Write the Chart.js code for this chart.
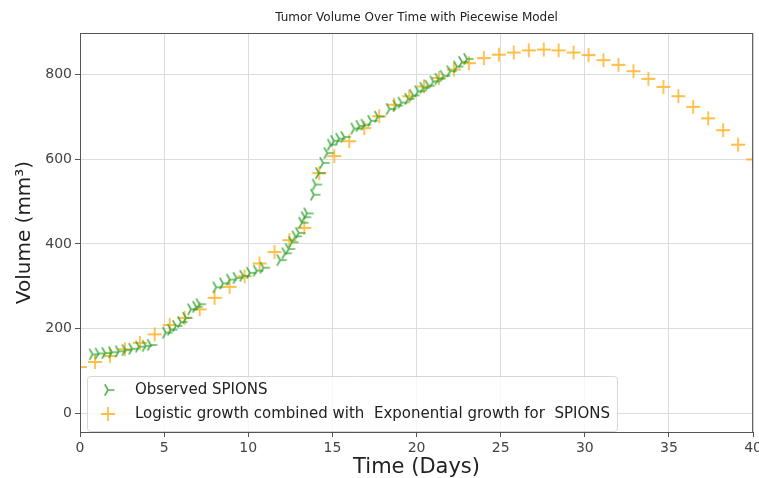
<!DOCTYPE html>
<html>
<head>
<meta charset="utf-8">
<script src="https://cdn.jsdelivr.net/npm/chart.js@4.4.1/dist/chart.umd.min.js"></script>
<style>
  html, body { margin: 0; padding: 0; background: #fff; overflow: hidden; }
  #wrap { width: 759px; height: 478px; overflow: hidden; }
</style>
</head>
<body>
<!-- canvas is a few px wider than the window so the "40" label gets clipped like the original -->
<div id="wrap"><canvas id="tumorChart" width="765" height="478"></canvas></div>
<script>
// observed SPIONS measurements
const obsDays = [0.75, 1.1, 1.5, 1.9, 2.3, 2.7, 3.1, 3.5, 3.9, 4.2,
    5.1, 5.4, 5.7, 6.0, 6.3, 6.6, 6.9, 7.1,
    8.1, 8.5, 8.9, 9.3, 9.7, 10.1, 10.5, 10.9,
    11.9, 12.2, 12.4, 12.6, 12.8, 13.0, 13.2, 13.35, 13.5, 13.9, 14.0, 14.2, 14.45, 14.7, 14.9,
    15.1, 15.4, 15.7, 16.3, 16.6, 16.9, 17.3, 17.7, 18.4, 18.8, 19.1, 19.5, 19.8,
    20.1, 20.4, 20.7, 21.0, 21.3, 21.6, 22.0, 22.4, 22.7, 23.0];
const obsVolume = [140, 142, 143, 145, 147, 150, 153, 158, 160, 162,
    191, 198, 207, 216, 226, 246, 252, 258,
    298, 307, 316, 320, 325, 332, 337, 344,
    362, 378, 388, 404, 418, 426, 450, 463, 472, 516, 540, 567, 591, 614, 634,
    643, 648, 652, 672, 678, 681, 690, 700, 718, 726, 733, 742, 750,
    760, 768, 773, 783, 789, 796, 807, 818, 829, 836];

// piecewise model (logistic + exponential)
const modelDays = [0, 0.89, 1.78, 2.67, 3.56, 4.44, 5.33, 6.22, 7.11, 8.0,
    8.89, 9.78, 10.67, 11.56, 12.44, 13.33, 14.22, 15.11, 16.0, 16.89,
    17.78, 18.67, 19.56, 20.44, 21.33, 22.22, 23.11, 24.0, 24.89, 25.78,
    26.67, 27.56, 28.44, 29.33, 30.22, 31.11, 32.0, 32.89, 33.78, 34.67,
    35.56, 36.44, 37.33, 38.22, 39.11, 40.0];
const modelVolume = [110, 122, 136, 152, 167, 187, 209, 226, 246, 273,
    299, 324, 354, 381, 409, 438, 567, 607, 642, 673,
    701, 728, 748, 771, 791, 811, 826, 838, 846, 851,
    856, 858, 856, 851, 845, 833, 822, 807, 789, 770,
    748, 723, 696, 668, 634, 599];

const yTicks = [0, 200, 400, 600, 800];
const xTicks = [0, 5, 10, 15, 20, 25, 30, 35, 40];

const seriesLabels = ["Observed SPIONS", "Logistic growth combined with  Exponential growth for  SPIONS"];

const FONT = "'DejaVu Sans', sans-serif";

function triRight(color) {
    const c = document.createElement("canvas");
    c.width = 16; c.height = 16;
    const g = c.getContext("2d");
    const r = 6.5;
    g.strokeStyle = color;
    g.lineWidth = 1.7;
    g.beginPath();
    [0, 120, 240].forEach((deg) => {
        const a = deg * Math.PI / 180;
        g.moveTo(8, 8);
        g.lineTo(8 + r * Math.cos(a), 8 - r * Math.sin(a));
    });
    g.stroke();
    return c;
}

function plusMark(color) {
    const c = document.createElement("canvas");
    c.width = 18; c.height = 18;
    const g = c.getContext("2d");
    g.strokeStyle = color;
    g.lineWidth = 1.8;
    g.beginPath();
    g.moveTo(2, 9); g.lineTo(16, 9);
    g.moveTo(9, 2); g.lineTo(9, 16);
    g.stroke();
    return c;
}

const greenMark = triRight("rgba(44,160,44,0.8)");
const orangeMark = plusMark("rgba(255,165,0,0.72)");

const insideLegend = {
    id: "insideLegend",
    afterDraw(chart) {
        const ctx = chart.ctx;
        const x = 87, y = 376, w = 530, h = 55;
        ctx.save();
        ctx.fillStyle = "rgba(255,255,255,0.8)";
        ctx.strokeStyle = "rgba(204,204,204,0.8)";
        ctx.lineWidth = 1;
        ctx.beginPath();
        ctx.roundRect(x + 0.5, y + 0.5, w, h, 3);
        ctx.fill();
        ctx.stroke();
        ctx.font = "15px " + FONT;
        ctx.fillStyle = "#222";
        ctx.textBaseline = "middle";
        const marks = [greenMark, orangeMark];
        const rows = [390, 414];
        seriesLabels.forEach((label, i) => {
            const m = marks[i];
            ctx.drawImage(m, 108 - m.width / 2, rows[i] - m.height / 2);
            ctx.fillText(label, 135, rows[i]);
        });
        ctx.restore();
    },
};

const frame = {
    id: "frame",
    afterDatasetsDraw(chart) {
        const a = chart.chartArea;
        const ctx = chart.ctx;
        ctx.save();
        ctx.strokeStyle = "#555";
        ctx.lineWidth = 1;
        ctx.strokeRect(a.left + 0.5, a.top + 0.5, a.right - a.left - 1, a.bottom - a.top);
        ctx.restore();
    },
};

const ctx = document.getElementById("tumorChart");
new Chart(ctx, {
    type: "scatter",
    data: {
        datasets: [
            {
                label: seriesLabels[0],
                data: obsDays.map((d, i) => ({ x: d, y: obsVolume[i] })),
                pointStyle: greenMark,
                pointRadius: 7,
            },
            {
                label: seriesLabels[1],
                data: modelDays.map((d, i) => ({ x: d, y: modelVolume[i] })),
                pointStyle: orangeMark,
                pointRadius: 8,
            },
        ],
    },
    options: {
        responsive: false,
        animation: false,
        plugins: {
            legend: { display: false },
            tooltip: { enabled: false },
        },
        scales: {
            // top axis only carries the title, centred over the plot like matplotlib does
            top: {
                type: "linear",
                position: "top",
                min: 0,
                max: 40,
                afterFit: (scale) => { scale.height = 33; },
                grid: { display: false },
                border: { display: false },
                ticks: { display: false },
                title: {
                    display: true,
                    text: "Tumor Volume Over Time with Piecewise Model",
                    color: "#222",
                    font: { family: FONT, size: 12 },
                    padding: { top: 11, bottom: 0 },
                },
            },
            x: {
                type: "linear",
                position: "bottom",
                min: 0,
                max: 40,
                afterBuildTicks: (scale) => { scale.ticks = xTicks.map((v) => ({ value: v })); },
                afterFit: (scale) => { scale.height = 46; },
                grid: { color: "#dcdcdc", tickColor: "#555", tickLength: 5 },
                border: { color: "#555" },
                ticks: { color: "#444", padding: 3, font: { family: FONT, size: 14 } },
                title: {
                    display: true,
                    text: "Time (Days)",
                    color: "#222",
                    font: { family: FONT, size: 21 },
                    padding: { top: 0, bottom: -2 },
                },
            },
            y: {
                type: "linear",
                min: -43,
                max: 897,
                afterBuildTicks: (scale) => { scale.ticks = yTicks.map((v) => ({ value: v })); },
                afterFit: (scale) => { scale.width = 80; },
                grid: { color: "#dcdcdc", tickColor: "#555", tickLength: 5 },
                border: { color: "#555" },
                ticks: { color: "#444", padding: 3, font: { family: FONT, size: 14 } },
                title: {
                    display: true,
                    text: "Volume (mm³)",
                    color: "#222",
                    font: { family: FONT, size: 20 },
                    padding: { top: 13, bottom: 0 },
                },
            },
        },
    },
    plugins: [frame, insideLegend],
});
</script>
</body>
</html>
